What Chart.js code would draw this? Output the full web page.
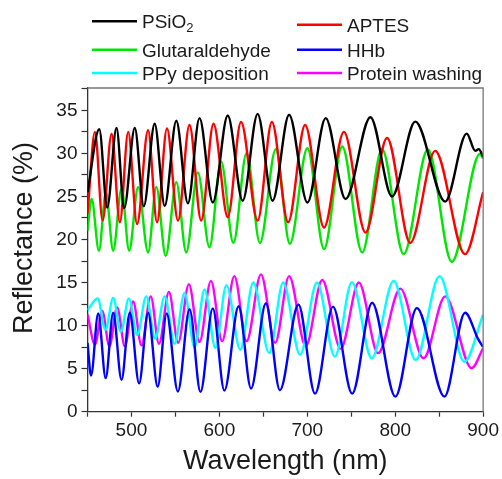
<!DOCTYPE html>
<html>
<head>
<meta charset="utf-8">
<script src="https://cdn.jsdelivr.net/npm/chart.js@4.4.1/dist/chart.umd.min.js"></script>
<style>
  html, body { margin: 0; padding: 0; background: #fff; }
  #wrap { width: 502px; height: 479px; }
</style>
</head>
<body>
<div id="wrap"><canvas id="chart" width="502" height="479"></canvas></div>
<script>
// values (wavelength nm / reflectance %)
const psio2Wl = [450, 463.4, 472.4, 483.0, 491.7, 503.8, 514.0, 526.4, 537.8, 551.0, 564.2, 577.4, 592.5, 609.5, 626.5, 643.5, 660.5, 679.3, 700.1, 720.9, 743.5, 771.8, 796.4, 822.8, 856.8, 881.3, 891, 895, 900];
const psio2R  = [25.5, 32.8, 23.7, 32.95, 23.65, 32.95, 23.85, 33.45, 23.9, 33.8, 24.2, 34.1, 24.3, 34.4, 24.5, 34.6, 24.5, 34.5, 24.3, 34.1, 24.7, 34.2, 25.0, 33.7, 24.4, 32.3, 30.3, 30.5, 29.6];

const aptesWl = [450, 458.5, 467.2, 477.4, 486.8, 496.3, 506.4, 518.9, 529.1, 540.4, 552.9, 566.0, 579.3, 593.3, 609.5, 624.6, 643.5, 659.7, 678.2, 697.5, 719.0, 741.6, 766.2, 790.7, 817.1, 845.4, 879.4, 900];
const aptesR  = [23.0, 32.5, 22.2, 32.3, 22.0, 32.5, 21.8, 32.7, 22.0, 32.9, 22.2, 33.3, 22.2, 33.45, 22.6, 33.65, 22.2, 33.65, 22.0, 33.3, 21.4, 32.5, 20.8, 31.8, 19.6, 30.3, 18.3, 25.5];

const glutWl = [450, 454.7, 463.0, 470.9, 479.2, 488.7, 497.4, 507.6, 518.9, 528.3, 538.9, 551.0, 562.3, 575.5, 588.7, 602.0, 615.9, 631.0, 646.1, 664.2, 680.1, 700.1, 719.0, 739.7, 762.4, 785.0, 809.6, 837.1, 864.3, 896.4, 900];
const glutR  = [21.0, 24.7, 18.7, 25.5, 18.7, 25.9, 18.7, 26.1, 18.5, 26.1, 18.1, 26.65, 18.5, 27.8, 19.1, 29.05, 19.6, 30.07, 19.6, 30.5, 19.5, 30.6, 18.9, 30.8, 18.5, 30.5, 18.3, 30.45, 17.4, 29.95, 29.4];

const hhbWl = [450, 454.0, 462.2, 470.7, 479.2, 488.7, 498.1, 508.7, 518.9, 529.8, 540.0, 552.8, 566.1, 578.5, 592.5, 605.7, 621.9, 636.0, 652.9, 668.8, 689.9, 708.8, 729.2, 751.0, 773.7, 800.2, 824.6, 856.0, 879.4, 894.5, 900];
const hhbR  = [8.0, 4.2, 11.4, 3.9, 11.5, 3.7, 11.5, 3.3, 11.5, 2.9, 11.4, 2.35, 11.9, 2.3, 12.0, 2.45, 12.25, 2.7, 12.6, 2.5, 12.45, 2.1, 12.2, 2.1, 12.65, 1.75, 12.05, 1.75, 11.5, 8.4, 7.5];

const ppyWl = [450, 461.6, 470.4, 479.2, 487.9, 497.0, 506.6, 516.8, 527.0, 537.8, 549.1, 560.4, 571.7, 583.1, 595.5, 608.0, 623.8, 638.5, 656.7, 672.5, 691.8, 711.0, 731.4, 750.7, 773.3, 798.2, 823.2, 850.4, 878.7, 900];
const ppyR  = [11.8, 13.15, 9.5, 13.2, 9.3, 13.15, 8.9, 13.4, 8.5, 13.4, 7.9, 13.8, 7.5, 14.2, 7.4, 14.7, 7.2, 15.0, 6.8, 15.0, 6.6, 15.0, 6.4, 15.05, 6.2, 15.2, 6.0, 15.75, 5.8, 11.3];

const washWl = [450, 458.5, 466.8, 474.9, 483.7, 492.5, 501.9, 511.4, 521.9, 531.3, 542.6, 553.1, 565.3, 577.4, 590.4, 603.1, 617.0, 631.0, 647.3, 663.5, 679.3, 698.2, 717.0, 737.9, 758.6, 780.5, 805.8, 832.2, 856.8, 886.9, 900];
const washR  = [11.3, 7.8, 11.7, 7.6, 12.1, 7.6, 12.8, 7.7, 13.4, 7.9, 13.9, 8.0, 14.8, 8.1, 15.2, 8.2, 15.75, 8.2, 15.95, 8.0, 15.75, 7.6, 15.3, 7.3, 15.0, 6.8, 14.3, 6.2, 13.4, 5.05, 7.4];

const seriesNames = ["PSiO2", "APTES", "Glutaraldehyde", "HHb", "PPy deposition", "Protein washing"];
const xTicks = [500, 600, 700, 800, 900];
const yTicks = [0, 5, 10, 15, 20, 25, 30, 35];

const FONT = "Arial, 'Liberation Sans', Helvetica, sans-serif";

function toPoints(wl, r) {
    return wl.map((x, i) => ({ x: x, y: r[i] }));
}

function makeSet(name, wl, r, color) {
    return {
        label: name,
        data: toPoints(wl, r),
        borderColor: color,
        backgroundColor: color,
        borderWidth: 2.4,
        pointRadius: 0,
        cubicInterpolationMode: "monotone",
        fill: false
    };
}

// legend in two columns, drawn above the plot
const legendBlock = {
    id: "legendBlock",
    afterDraw(chart) {
        const ctx = chart.ctx;
        const cols = [92, 297];
        const baselines = [[28.3, 31.7], [56.7, 56.7], [80, 80]];
        ctx.save();
        chart.data.datasets.forEach((ds, i) => {
            const x = cols[i % 2];
            const base = baselines[Math.floor(i / 2)][i % 2];
            ctx.strokeStyle = ds.borderColor;
            ctx.lineWidth = 2.6;
            ctx.beginPath();
            ctx.moveTo(x, base - 7);
            ctx.lineTo(x + 45, base - 7);
            ctx.stroke();
            ctx.fillStyle = "#1a1a1a";
            ctx.textBaseline = "alphabetic";
            ctx.textAlign = "left";
            ctx.font = "19px " + FONT;
            const m = ds.label.match(/^(.*?[A-Za-z])(\d+)$/);
            if (m) {
                ctx.fillText(m[1], x + 50, base);
                const w = ctx.measureText(m[1]).width;
                ctx.font = "13px " + FONT;
                ctx.fillText(m[2], x + 50 + w, base + 4);
            } else {
                ctx.fillText(ds.label, x + 50, base);
            }
        });
        ctx.restore();
    }
};

// top/right frame and the y title
const frameAndTitle = {
    id: "frameAndTitle",
    afterDraw(chart) {
        const ctx = chart.ctx;
        const a = chart.chartArea;
        ctx.save();
        ctx.strokeStyle = "#777";
        ctx.lineWidth = 1.3;
        ctx.beginPath();
        ctx.moveTo(a.left, a.top);
        ctx.lineTo(a.right, a.top);
        ctx.lineTo(a.right, a.bottom);
        ctx.stroke();

        ctx.translate(25, 238);
        ctx.rotate(-Math.PI / 2);
        ctx.fillStyle = "#1a1a1a";
        ctx.font = "27px " + FONT;
        ctx.textAlign = "center";
        ctx.textBaseline = "middle";
        ctx.fillText("Reflectance (%)", 0, 0);
        ctx.restore();
    }
};

const ctx = document.getElementById("chart").getContext("2d");

new Chart(ctx, {
    type: "line",
    data: {
        datasets: [
            makeSet(seriesNames[0], psio2Wl, psio2R, "#000000"),
            makeSet(seriesNames[1], aptesWl, aptesR, "#ff0000"),
            makeSet(seriesNames[2], glutWl, glutR, "#00e600"),
            makeSet(seriesNames[3], hhbWl, hhbR, "#0000ff"),
            makeSet(seriesNames[4], ppyWl, ppyR, "#00ffff"),
            makeSet(seriesNames[5], washWl, washR, "#ff00ff")
        ]
    },
    options: {
        responsive: false,
        animation: false,
        events: [],
        layout: { padding: { top: 88, right: 17, left: 0, bottom: 0 } },
        plugins: {
            legend: { display: false },
            tooltip: { enabled: false }
        },
        scales: {
            x: {
                type: "linear",
                min: 450,
                max: 900,
                afterFit(scale) { scale.height = 67.3; },
                ticks: {
                    stepSize: 50,
                    autoSkip: false,
                    maxRotation: 0,
                    padding: 3,
                    color: "#1a1a1a",
                    font: { family: FONT, size: 19 },
                    callback: v => xTicks.includes(v) ? String(v) : ""
                },
                grid: { drawOnChartArea: false, tickLength: 5, tickColor: "#333", tickWidth: 1.2 },
                border: { color: "#333", width: 1.3 },
                title: {
                    display: true,
                    text: "Wavelength (nm)",
                    color: "#1a1a1a",
                    font: { family: FONT, size: 27 },
                    padding: { top: 0, bottom: 1 }
                }
            },
            y: {
                min: 0,
                max: 37.6,
                afterFit(scale) { scale.width = 87.5; },
                ticks: {
                    stepSize: 2.5,
                    includeBounds: false,
                    autoSkip: false,
                    padding: 4,
                    color: "#1a1a1a",
                    font: { family: FONT, size: 19 },
                    callback: v => yTicks.includes(v) ? String(v) : ""
                },
                grid: { drawOnChartArea: false, tickLength: 6, tickColor: "#333", tickWidth: 1.2 },
                border: { color: "#333", width: 1.3 }
            }
        }
    },
    plugins: [legendBlock, frameAndTitle]
});
</script>
</body>
</html>
